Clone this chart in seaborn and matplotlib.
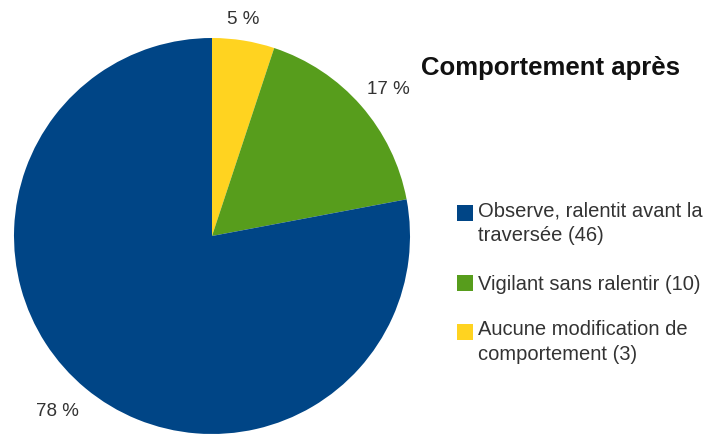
import matplotlib
matplotlib.use("Agg")
import matplotlib.pyplot as plt
import seaborn as sns
from matplotlib.patches import Rectangle

sns.set_theme(style="white")
plt.rcParams['font.family'] = ['Liberation Sans', 'DejaVu Sans']

# Data (drawn clockwise from 12 o'clock)
categories = ["Aucune modification de\ncomportement (3)",
              "Vigilant sans ralentir (10)",
              "Observe, ralentit avant la\ntraversée (46)"]
counts = [3, 10, 46]
colors = ["#FFD320", "#579D1C", "#004586"]
legend_order = [2, 1, 0]
title = "Comportement après"

W, H = 705, 437
fig = plt.figure(figsize=(W / 100, H / 100), dpi=100)
cx, cy, R = 212, 236, 198
ax = fig.add_axes([(cx - R) / W, (H - cy - R) / H, 2 * R / W, 2 * R / H])

wedges, texts, autotexts = ax.pie(
    counts, colors=colors, startangle=90, counterclock=False,
    autopct=lambda p: f"{p:.0f} %", pctdistance=1.105,
    wedgeprops=dict(linewidth=0, edgecolor="none"),
    textprops=dict(fontsize=13.5, color="#333333"))
ax.set_xlim(-1, 1)
ax.set_ylim(-1, 1)
ax.set_aspect("equal")
ax.axis("off")

# label placement tweaks (LibreOffice-like)
autotexts[0].set_position((0.16, 1.095))
autotexts[1].set_position((0.89, 0.74))
autotexts[2].set_position((-0.78, -0.885))

fig.text(421 / W, 1 - 75 / H, title, fontsize=18.5, fontweight="bold",
         color="#111111", ha="left", va="baseline")

# legend (square keys aligned with first text line)
first_baselines = [220, 290, 339]
line_step = 21
for k, i in enumerate(legend_order):
    b = first_baselines[k]
    nlines = categories[i].count("\n") + 1
    fig.add_artist(Rectangle((457 / W, 1 - (b + 0.5) / H), 16 / W, 15.5 / H,
                             transform=fig.transFigure, facecolor=colors[i],
                             edgecolor="none"))
    last_b = b + (nlines - 1) * line_step
    fig.text(478 / W, 1 - last_b / H, categories[i], fontsize=14.5,
             color="#333333", ha="left", va="baseline", linespacing=1.38)

fig.savefig("out.png", dpi=100)
